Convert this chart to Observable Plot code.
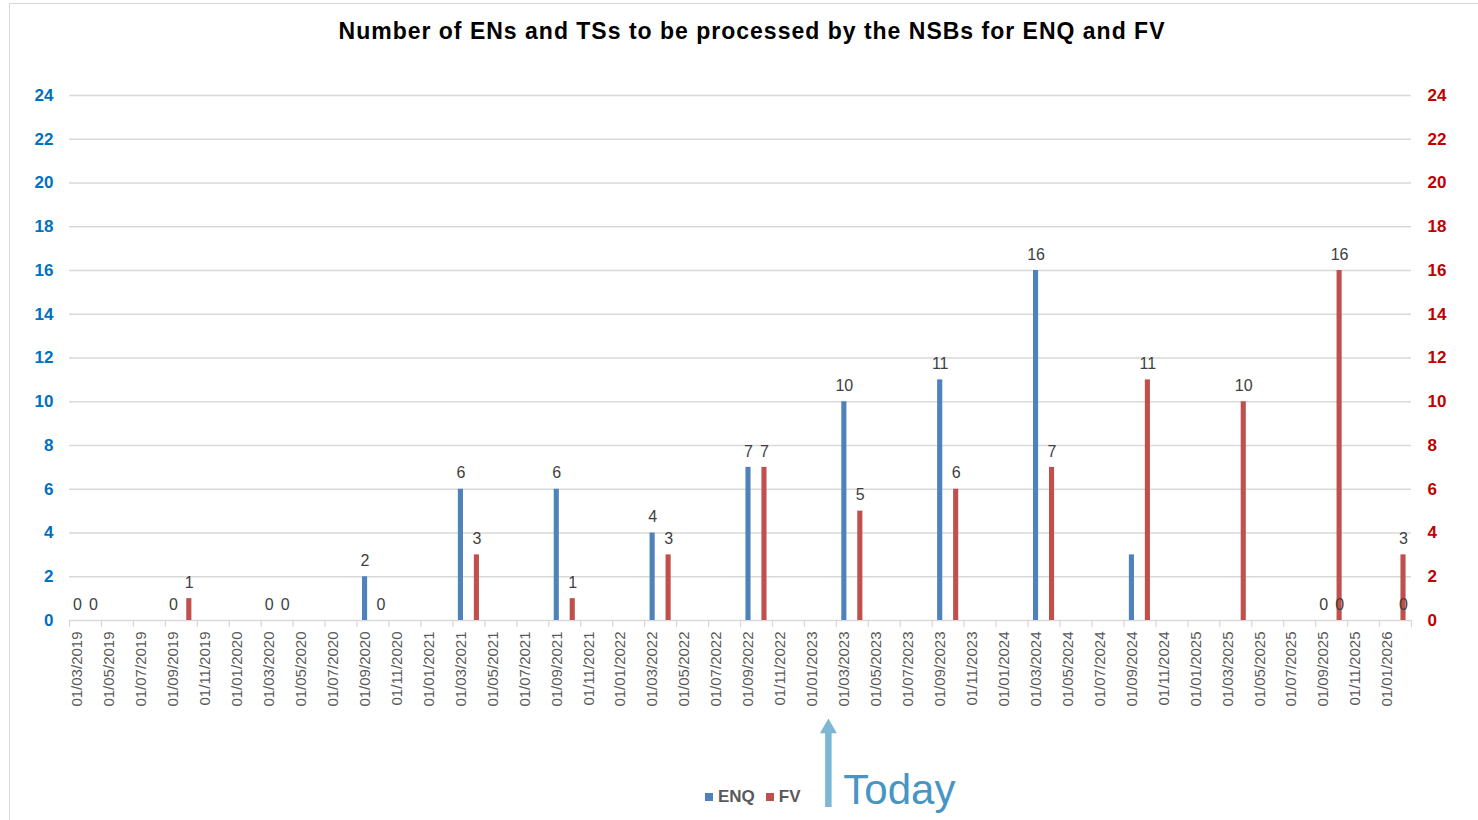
<!DOCTYPE html>
<html>
<head>
<meta charset="utf-8">
<script src="https://cdn.jsdelivr.net/npm/d3@7"></script>
<script src="https://cdn.jsdelivr.net/npm/@observablehq/plot@0.6"></script>
<style>
  html, body { margin: 0; padding: 0; background: #fff; }
  body { font-family: "Liberation Sans", Arial, sans-serif; }
  #wrap { position: relative; width: 1478px; height: 820px; overflow: hidden; }
  #frame { position: absolute; left: 9px; top: 3px; width: 1480px; height: 830px; border: 1px solid #d9d9d9; box-sizing: border-box; }
  #title { position: relative; height: 50px; line-height: 62px; text-align: center; padding-left: 26px; box-sizing: border-box; font-size: 23px; letter-spacing: 1px; font-weight: bold; color: #000; white-space: nowrap; }
  #chart { position: relative; }
  #legend { position: absolute; left: 705px; top: 787px; font-size: 17px; font-weight: bold; color: #595959; display: flex; align-items: center; }
  #legend .sw { display: inline-block; width: 8px; height: 8px; margin-right: 5px; }
  #legend .item { display: flex; align-items: center; margin-right: 11px; }
</style>
</head>
<body>
<div id="wrap">
  <div id="frame"></div>
  <div id="title">Number of ENs and TSs to be processed by the NSBs for ENQ and FV</div>
  <div id="chart"></div>
  <div id="legend"></div>
</div>
<script>
// ---- data ----
const enqMonths = ["2019-03","2019-09","2020-03","2020-09","2021-03","2021-09","2022-03","2022-09","2023-03","2023-09","2024-03","2024-09","2025-09","2025-10","2026-02"];
const enqValues = [0,0,0,2,6,6,4,7,10,11,16,3,0,0,0];
const enqUnlabelled = ["2024-09"];

const fvMonths = ["2019-04","2019-10","2020-04","2020-10","2021-04","2021-10","2022-04","2022-10","2023-04","2023-10","2024-04","2024-10","2025-04","2025-10","2026-02"];
const fvValues = [0,1,0,0,3,1,3,7,5,6,7,11,10,16,3];

const xTickLabels = ["01/03/2019","01/05/2019","01/07/2019","01/09/2019","01/11/2019","01/01/2020","01/03/2020","01/05/2020","01/07/2020","01/09/2020","01/11/2020","01/01/2021","01/03/2021","01/05/2021","01/07/2021","01/09/2021","01/11/2021","01/01/2022","01/03/2022","01/05/2022","01/07/2022","01/09/2022","01/11/2022","01/01/2023","01/03/2023","01/05/2023","01/07/2023","01/09/2023","01/11/2023","01/01/2024","01/03/2024","01/05/2024","01/07/2024","01/09/2024","01/11/2024","01/01/2025","01/03/2025","01/05/2025","01/07/2025","01/09/2025","01/11/2025","01/01/2026"];
const yTicks = [0,2,4,6,8,10,12,14,16,18,20,22,24];
const todayMonth = "2023-02";
const seriesNames = ["ENQ","FV"];
const seriesColors = ["#4F81BD","#C0504D"];

// ---- helpers ----
const parseLabel = s => { const [d, m, y] = s.split("/").map(Number); return (y - 2019) * 12 + (m - 3); };
const ym = s => { const [y, m] = s.split("-").map(Number); return (y - 2019) * 12 + (m - 3); };
const half = 0.16; // half bar width in month units

const enq = enqMonths.map((m, i) => ({m, v: enqValues[i], c: ym(m) + 0.5}));
const fv = fvMonths.map((m, i) => ({m, v: fvValues[i], c: ym(m) + 0.5}));
const enqLab = enq.filter(d => !enqUnlabelled.includes(d.m));
const tickBounds = xTickLabels.map(parseLabel).concat([84]);
const labelPos = xTickLabels.map(s => ({p: parseLabel(s) + 0.5, s}));
const today = [ym(todayMonth) + 0.5];

const font = '"Liberation Sans", Arial, sans-serif';

const chart = Plot.plot({
  width: 1478,
  height: 770,
  marginLeft: 69,
  marginRight: 67,
  marginTop: 45,
  marginBottom: 200,
  x: {type: "linear", domain: [0, 84], axis: null},
  y: {domain: [0, 24], axis: null},
  style: {fontFamily: font, overflow: "visible", background: "transparent"},
  marks: [
    Plot.ruleY(yTicks, {stroke: "#d9d9d9", strokeWidth: 1.3}),
    Plot.axisX(tickBounds, {anchor: "bottom", tickSize: 7, tickFormat: () => "", label: null, stroke: "#d9d9d9", strokeWidth: 1.3}),
    Plot.text(labelPos, {x: "p", y: 0, text: "s", rotate: -90, textAnchor: "end", lineAnchor: "middle", dy: 11, fontSize: 15, fill: "#595959"}),
    Plot.axisY(yTicks, {anchor: "left", tickSize: 0, tickPadding: 16, label: null, color: "#0070C0", fontWeight: "bold", fontSize: 17}),
    Plot.axisY(yTicks, {anchor: "right", tickSize: 0, tickPadding: 16, label: null, color: "#C00000", fontWeight: "bold", fontSize: 17}),
    Plot.rectY(enq, {x1: d => d.c - half, x2: d => d.c + half, y1: 0, y2: "v", fill: seriesColors[0]}),
    Plot.rectY(fv, {x1: d => d.c - half, x2: d => d.c + half, y1: 0, y2: "v", fill: seriesColors[1]}),
    Plot.text(fv, {x: "c", y: "v", text: d => String(d.v), dy: -16, lineAnchor: "middle", fontSize: 16, fill: "#404040"}),
    Plot.text(enqLab, {x: "c", y: "v", text: d => String(d.v), dy: -16, lineAnchor: "middle", fontSize: 16, fill: "#404040"}),
    // "Today" annotation
    Plot.ruleX(today, {x: d => d, y1: -8.55, y2: -5.1, stroke: "#7DB7D3", strokeWidth: 6.5}),
    Plot.dot(today, {x: d => d, y: -4.93, symbol: "triangle", r: 6.3, fill: "#7DB7D3", stroke: null}),
    Plot.text(today, {x: d => d, y: -8.37, text: () => "Today", textAnchor: "start", lineAnchor: "bottom", dx: 15, fontSize: 42, fill: "#4795C3"})
  ]
});
document.getElementById("chart").appendChild(chart);

const legend = document.getElementById("legend");
seriesNames.forEach((n, i) => {
  const it = document.createElement("span");
  it.className = "item";
  it.innerHTML = `<span class="sw" style="background:${seriesColors[i]}"></span>${n}`;
  legend.appendChild(it);
});
</script>
</body>
</html>
